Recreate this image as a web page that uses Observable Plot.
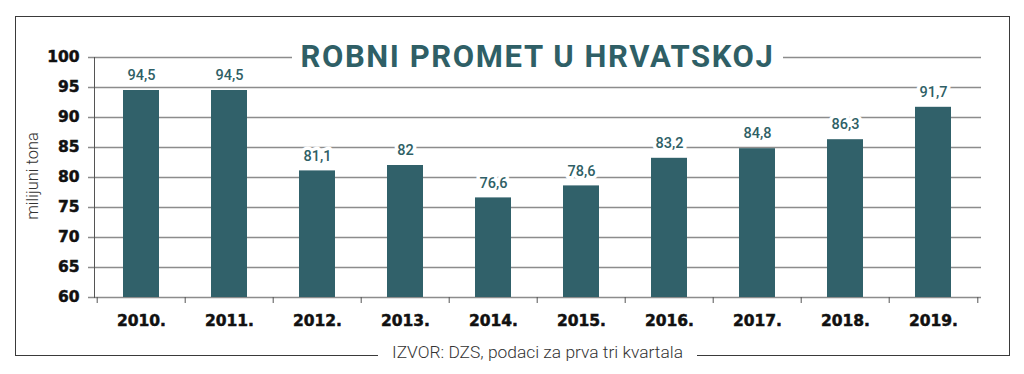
<!DOCTYPE html>
<html>
<head>
<meta charset="utf-8">
<script src="https://cdn.jsdelivr.net/npm/d3@7"></script>
<script src="https://cdn.jsdelivr.net/npm/@observablehq/plot@0.6"></script>
<style>
  html, body { margin: 0; padding: 0; background: #fff; }
  #wrap { position: relative; width: 1024px; height: 374px; overflow: hidden; font-family: Roboto, "Noto Sans", sans-serif; }
  #frame { position: absolute; left: 15px; top: 16px; width: 995px; height: 340px; border: 1.6px solid #3a3a3a; box-sizing: border-box; }
  #title { position: absolute; left: 292px; width: 491px; top: 38px; height: 38px; background: #fff; color: #2f5f66;
           font-family: Roboto, sans-serif; font-weight: 700; font-size: 31px; letter-spacing: 1.6px; text-align: center; line-height: 38px; }
  #ylab { position: absolute; left: 32px; top: 176px; transform: translate(-50%, -50%) rotate(-90deg); white-space: nowrap;
          font-family: Roboto, sans-serif; font-weight: 300; font-size: 16.5px; color: #333; }
  #source { position: absolute; left: 378px; width: 319px; top: 342px; height: 24px; background: #fff; text-align: center;
            font-family: Roboto, sans-serif; font-weight: 300; font-size: 17.4px; color: #333; line-height: 20px; white-space: nowrap; }
  #chart { position: absolute; left: 0; top: 0; }
  g[aria-label$="tick label"] { stroke: #111; stroke-width: 0.5px; }
</style>
</head>
<body>
<div id="wrap">
  <div id="frame"></div>
  <div id="chart"></div>
  <div id="title">ROBNI PROMET U HRVATSKOJ</div>
  <div id="ylab">milijuni tona</div>
  <div id="source">IZVOR: DZS, podaci za prva tri kvartala</div>
</div>
<script>
const years = ["2010.", "2011.", "2012.", "2013.", "2014.", "2015.", "2016.", "2017.", "2018.", "2019."];
const values = [94.5, 94.5, 81.1, 82, 76.6, 78.6, 83.2, 84.8, 86.3, 91.7];
const labels = ["94,5", "94,5", "81,1", "82", "76,6", "78,6", "83,2", "84,8", "86,3", "91,7"];
const yTicks = [60, 65, 70, 75, 80, 85, 90, 95, 100];

const data = years.map((y, i) => ({year: y, value: values[i], label: labels[i]}));

const W = 1024, H = 374, mL = 94, mR = 44, mT = 57, mB = 77;
const half = (W - mL - mR) / years.length / 2;
const barColor = "#31616a";
const heavy = {fontFamily: "DejaVu Sans", fontWeight: 700, fill: "#111"};

const chart = Plot.plot({
  width: W, height: H,
  marginLeft: mL, marginRight: mR, marginTop: mT, marginBottom: mB,
  style: {background: "transparent", fontFamily: "Roboto, sans-serif"},
  x: {domain: years, padding: 0, axis: null},
  y: {domain: [60, 100], axis: null},
  marks: [
    Plot.ruleY(yTicks, {stroke: "#8c8c8c", strokeWidth: 1.6, insetLeft: -6, insetRight: -1}),
    Plot.barY(data, {x: "year", y1: 60, y2: "value", fill: barColor, insetLeft: 26, insetRight: 26}),
    Plot.frame({anchor: "left", stroke: "#555", strokeWidth: 1}),
    Plot.axisX({ticks: years, tickSize: 6, tickFormat: () => "", dx: -half, stroke: "#555", label: null}),
    Plot.axisX({ticks: [years[years.length - 1]], tickSize: 6, tickFormat: () => "", dx: half, stroke: "#555", label: null}),
    Plot.axisX({tickSize: 0, tickPadding: 17, fontSize: 15.5, label: null, ...heavy}),
    Plot.axisY({ticks: yTicks, tickSize: 0, tickPadding: 15, fontSize: 15.5, label: null, ...heavy}),
    Plot.text(data, {x: "year", y: "value", text: "label", dy: -15, fill: "#2f5f66", stroke: "white", strokeWidth: 7,
                     fontSize: 14.5, fontWeight: 500, fontFamily: "Roboto"})
  ]
});
document.getElementById("chart").appendChild(chart);
</script>
</body>
</html>
